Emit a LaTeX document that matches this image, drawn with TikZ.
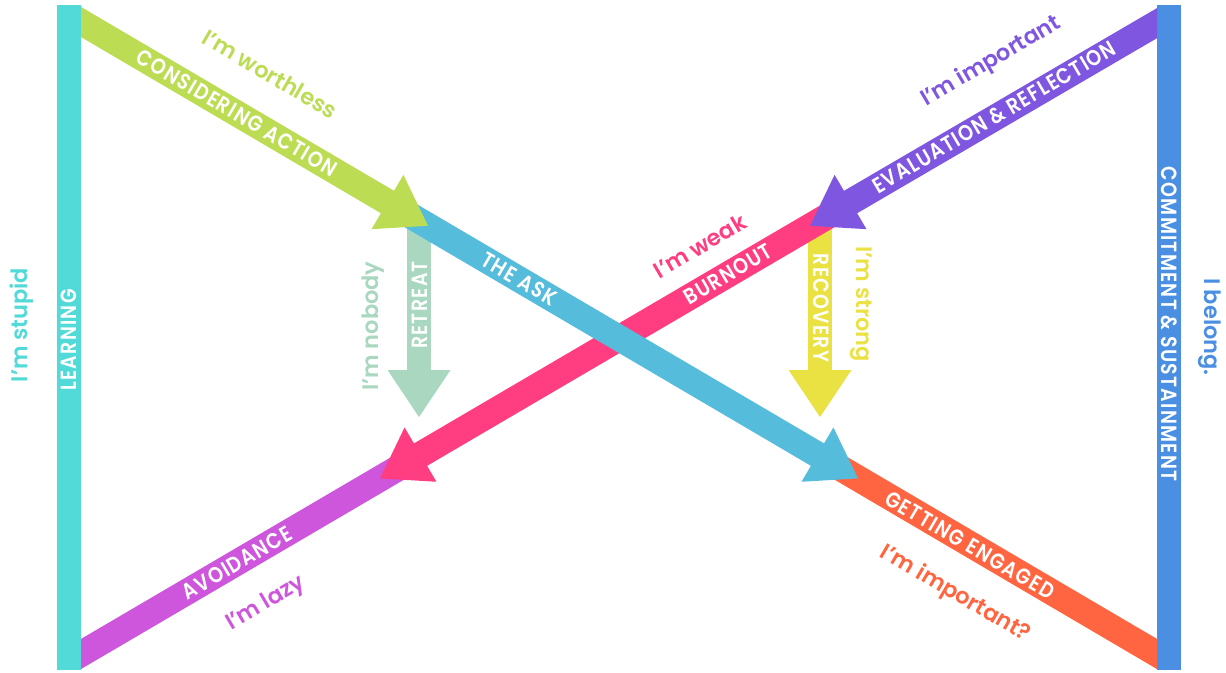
\documentclass[tikz,border=0pt]{standalone}
\usepackage{fontspec}
\setmainfont{Poppins}
\newfontfamily\capsfont[FakeStretch=0.86,LetterSpace=6]{Poppins SemiBold}
\newfontfamily\saysfont{Poppins SemiBold}
\usetikzlibrary{calc}
\definecolor{cCyan}{HTML}{52DAD8}
\definecolor{cBlueBar}{HTML}{4A8FE2}
\definecolor{cLime}{HTML}{BCDC54}
\definecolor{cSky}{HTML}{55BCDC}
\definecolor{cOrange}{HTML}{FF6540}
\definecolor{cMagenta}{HTML}{CD56DC}
\definecolor{cPink}{HTML}{FF3D80}
\definecolor{cViolet}{HTML}{7F56E0}
\definecolor{cSage}{HTML}{A9D7BF}
\definecolor{cYellow}{HTML}{EAE142}
\newcommand\ahead[3]{\fill[#1] (#2) -- ($(#2)!47pt!(#3)!31.5pt!90:(#2)$) -- ($(#2)!47pt!(#3)!31.5pt!-90:(#2)$) -- cycle;}
\begin{document}
\begin{tikzpicture}[x=1pt,y=-1pt,
  band/.style={line width=26pt},
  vband/.style={line width=24pt},
  lbl/.style={text=white, font=\capsfont\fontsize{22}{22}\selectfont, inner sep=0pt},
  says/.style={font=\saysfont\fontsize{22.5}{22.5}\selectfont, inner sep=0pt}]
\useasboundingbox (0,0) rectangle (1226,672);
% key points
\coordinate (D0) at (81,22);
\coordinate (D0x) at (60,9.665);
\coordinate (D1x) at (1180,667.5);
\coordinate (A0x) at (60,666.3);
\coordinate (A1) at (1157,22);
\coordinate (A1x) at (1180,9.7);
\coordinate (G) at (428,225.8);
\coordinate (B) at (858,478.4);
\coordinate (P) at (380,478.4);
\coordinate (E) at (810,225.8);
\coordinate (R0) at (419,215);
\coordinate (R1) at (419,380);
\coordinate (RT) at (419,417);
\coordinate (C0) at (820,215);
\coordinate (C1) at (820,380);
\coordinate (CT) at (820,417);
% vertical bars
\fill[cCyan] (57,5) rectangle (81,670);
\fill[cBlueBar] (1157,5) rectangle (1181,670);
% vertical arrows
\draw[vband, cSage] (R0) -- (R1);
\ahead{cSage}{RT}{R0}
\draw[vband, cYellow] (C0) -- (C1);
\ahead{cYellow}{CT}{C0}
% orange
\begin{scope}\clip (834,0) rectangle (1157,672);
\draw[band, cOrange] (D0x) -- (D1x);\end{scope}
% avoidance
\begin{scope}\clip (81,0) rectangle (404,672);
\draw[band, cMagenta] (A0x) -- (A1x);\end{scope}
% pink burnout
\begin{scope}\clip (0,0) rectangle (834,672);
\draw[band, cPink] (A1x) -- ($(P)!25pt!(A1)$);\end{scope}
\ahead{cPink}{P}{A1}
% blue the ask
\begin{scope}\clip (404,0) rectangle (1157,672);
\draw[band, cSky] (D0x) -- ($(B)!25pt!(D0)$);\end{scope}
\ahead{cSky}{B}{D0}
% green considering
\begin{scope}\clip (81,0) rectangle (1157,672);
\draw[band, cLime] (D0x) -- ($(G)!25pt!(D0)$);\end{scope}
\ahead{cLime}{G}{D0}
% violet evaluation
\begin{scope}\clip (0,0) rectangle (1157,672);
\draw[band, cViolet] (A1x) -- ($(E)!25pt!(A1)$);\end{scope}
\ahead{cViolet}{E}{A1}
% labels on bands
\node[lbl, rotate=-30.43] (lca) at (237,113) {CONSIDERING ACTION};
\node[lbl, rotate=-30.43] (lask) at (519,279) {THE ASK};
\node[lbl, rotate=-30.43] (lge) at (970,545) {GETTING ENGAGED};
\node[lbl, rotate=30.43] (lav) at (237,563) {AVOIDANCE};
\node[lbl, rotate=30.43] (lbu) at (728,274) {BURNOUT};
\node[lbl, rotate=30.43] (lev) at (994,117) {EVALUATION \& REFLECTION};
\node[lbl, rotate=90] (lre) at (420,305) {RETREAT};
\node[lbl, rotate=-90] (lrc) at (821,308) {RECOVERY};
\node[lbl, rotate=90] (lle) at (69,340) {LEARNING};
\node[lbl, rotate=-90] (lco) at (1169,324) {COMMITMENT \& SUSTAINMENT};
% self-talk
\node[says, text=cLime, rotate=-30.43] (sw) at (270,74) {I’m worthless};
\node[says, text=cOrange, rotate=-30.43] (si2) at (955,594) {I’m important?};
\node[says, text=cMagenta, rotate=30.43] (sl) at (266,604) {I’m lazy};
\node[says, text=cPink, rotate=30.43] (swk) at (700,246) {I’m weak};
\node[says, text=cViolet, rotate=30.43] (si) at (991,62) {I’m important};
\node[says, text=cSage, rotate=90] (sn) at (373,326) {I’m nobody};
\node[says, text=cYellow, rotate=-90] (ss) at (861,304) {I’m strong};
\node[says, text=cCyan, rotate=90] (sst) at (22,325) {I’m stupid};
\node[says, text=cBlueBar, rotate=-90] (sb) at (1210,327) {I belong.};
\end{tikzpicture}
\end{document}
